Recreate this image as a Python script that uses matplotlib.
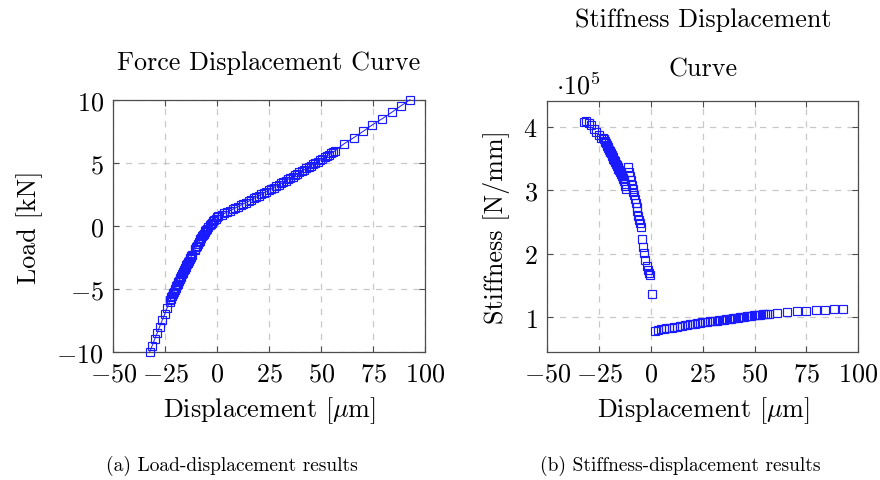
import matplotlib
matplotlib.use("Agg")
import matplotlib.pyplot as plt

plt.rcParams['font.family'] = 'serif'
plt.rcParams['font.serif'] = ['cmr10', 'DejaVu Serif']
plt.rcParams['mathtext.fontset'] = 'cm'
plt.rcParams['axes.formatter.use_mathtext'] = True
plt.rcParams['axes.unicode_minus'] = False

# ---------------- data ----------------
# displacement [um]
displacement = [
    -32.5, -31.3, -30.1, -28.9, -27.7, -26.5, -25.3, -24.1,
    -22.9, -22.6, -22.3, -22.0, -21.7, -21.4, -21.1, -20.8, -20.5, -20.2,
    -19.9, -19.6, -19.3, -19.0, -18.7, -18.4, -18.1, -17.8, -17.5, -17.2,
    -16.9, -16.6, -16.3, -16.0, -15.7, -15.4, -15.1, -14.8, -14.5, -14.2,
    -13.9, -13.6, -13.3, -13.0, -12.7, -12.4, -12.1,
    -10.9, -10.5, -10.1, -9.7, -9.3, -8.9, -8.5, -8.1, -7.7, -7.3,
    -6.9, -6.5, -6.1, -5.7, -5.3, -4.9,
    -4.3, -3.7, -3.2, -2.7, -2.1, -1.4, -0.8, -0.3, 0.5,
    2.1, 3.5, 4.8, 6.1, 7.4, 8.7, 10.0, 11.3, 12.6, 13.9,
    15.2, 16.4, 17.6, 18.8, 20.0, 21.2, 22.4, 23.6, 24.8, 26.0,
    27.2, 28.4, 29.6, 30.8, 31.9, 33.0, 34.1, 35.2, 36.3, 37.4,
    38.5, 39.6, 40.7, 41.8, 42.9, 44.0, 45.1, 46.2, 47.3, 48.4,
    49.5, 50.6, 51.7, 52.8, 53.8, 54.8, 55.8, 56.8,
    61.0, 65.8, 70.3, 74.6, 79.5, 84.0, 88.3, 92.8,
]
# load [kN]
load = [
    -10.0, -9.5, -9.0, -8.5, -8.0, -7.5, -7.0, -6.5,
    -6.00, -5.89, -5.78, -5.67, -5.55, -5.44, -5.33, -5.22, -5.11, -5.00,
    -4.89, -4.78, -4.67, -4.57, -4.46, -4.35, -4.25, -4.14, -4.04, -3.94,
    -3.83, -3.73, -3.63, -3.53, -3.43, -3.33, -3.23, -3.13, -3.04, -2.94,
    -2.84, -2.75, -2.65, -2.56, -2.47, -2.38, -2.29,
    -1.94, -1.81, -1.68, -1.56, -1.43, -1.31, -1.19, -1.07, -0.96, -0.84,
    -0.73, -0.63, -0.52, -0.42, -0.32, -0.22,
    -0.08, 0.05, 0.15, 0.25, 0.36, 0.48, 0.58, 0.67, 0.79,
    0.88, 0.99, 1.10, 1.20, 1.31, 1.42, 1.53, 1.64, 1.74, 1.85,
    1.96, 2.07, 2.18, 2.28, 2.39, 2.50, 2.61, 2.72, 2.82, 2.93,
    3.04, 3.15, 3.26, 3.36, 3.47, 3.58, 3.69, 3.80, 3.90, 4.01,
    4.12, 4.23, 4.34, 4.44, 4.55, 4.66, 4.77, 4.88, 4.98, 5.09,
    5.20, 5.31, 5.42, 5.52, 5.63, 5.74, 5.85, 5.96,
    6.5, 7.0, 7.5, 8.0, 8.5, 9.0, 9.5, 10.0,
]
# stiffness [1e5 N/mm]
stiffness_e5 = [
    4.08, 4.09, 4.06, 4.02, 3.97, 3.92, 3.87, 3.83,
    3.82, 3.80, 3.78, 3.76, 3.74, 3.72, 3.70, 3.68, 3.66, 3.64,
    3.62, 3.60, 3.58, 3.56, 3.54, 3.52, 3.50, 3.48, 3.46, 3.44,
    3.42, 3.40, 3.38, 3.36, 3.34, 3.32, 3.30, 3.28, 3.26, 3.24,
    3.22, 3.20, 3.17, 3.14, 3.10, 3.06, 3.02,
    3.36, 3.28, 3.22, 3.16, 3.09, 3.02, 2.97, 2.92, 2.86, 2.80,
    2.73, 2.67, 2.60, 2.54, 2.49, 2.42,
    2.23, 2.11, 2.01, 1.91, 1.81, 1.75, 1.70, 1.67, 1.37,
    0.79, 0.80, 0.81, 0.82, 0.825, 0.835, 0.84, 0.85, 0.855, 0.86,
    0.87, 0.875, 0.88, 0.89, 0.895, 0.90, 0.905, 0.91, 0.92, 0.925,
    0.93, 0.935, 0.94, 0.945, 0.95, 0.955, 0.96, 0.965, 0.97, 0.975,
    0.98, 0.985, 0.99, 0.995, 1.00, 1.005, 1.01, 1.015, 1.02, 1.025,
    1.03, 1.035, 1.04, 1.04, 1.045, 1.05, 1.05, 1.055,
    1.068, 1.088, 1.094, 1.104, 1.115, 1.12, 1.126, 1.135,
]

x_ticks = [-50, -25, 0, 25, 50, 75, 100]
load_ticks = [-10, -5, 0, 5, 10]
stiff_ticks = [1, 2, 3, 4]

# ---------------- figure ----------------
W, H = 880, 481
fig = plt.figure(figsize=(W / 100, H / 100), dpi=100)

def fx(px):
    return px / W

def fy(py):
    return 1 - py / H

FS = 18.8
CAP = 14.0
FRAME = '#4d4d4d'
BLUE = '#1a1aff'

axL = fig.add_axes([fx(113.3), fy(353.0), fx(425.0) - fx(113.3), fy(100.7) - fy(353.0)])
axR = fig.add_axes([fx(547.3), fy(353.3), fx(858.3) - fx(547.3), fy(101.7) - fy(353.3)])

def style(ax):
    for s in ax.spines.values():
        s.set_color(FRAME)
        s.set_linewidth(0.9)
    ax.tick_params(direction='in', length=4, width=0.8, color=FRAME,
                   top=True, right=True, labelsize=FS, pad=7)
    ax.grid(True, color='#c8c8c8', linestyle=(0, (5, 5)), linewidth=0.9)
    ax.set_axisbelow(True)
    ax.set_xlim(-50, 100)
    ax.set_xticks(x_ticks)
    ax.set_xticklabels([rf'${t}$' for t in x_ticks])

MS = 5.2
MEW = 0.85

style(axL)
axL.plot(displacement, load, color=BLUE, lw=0.7, marker='s', markersize=MS,
         markerfacecolor='none', markeredgecolor=BLUE, markeredgewidth=MEW,
         clip_on=False, zorder=3)
axL.set_ylim(-10, 10)
axL.set_yticks(load_ticks)
axL.set_yticklabels([rf'${t}$' for t in load_ticks])

style(axR)
axR.plot(displacement, [s * 1e5 for s in stiffness_e5], linestyle='none',
         marker='s', markersize=MS, markerfacecolor='none',
         markeredgecolor=BLUE, markeredgewidth=MEW, clip_on=False, zorder=3)
axR.set_ylim(0.45e5, 4.41e5)
axR.set_yticks([t * 1e5 for t in stiff_ticks])
axR.set_yticklabels([rf'${t}$' for t in stiff_ticks])

# titles / labels
fig.text(fx(269), fy(63), 'Force Displacement Curve', ha='center', va='center', fontsize=FS)
fig.text(fx(703), fy(20), 'Stiffness Displacement', ha='center', va='center', fontsize=FS)
fig.text(fx(703), fy(70), 'Curve', ha='center', va='center', fontsize=FS)
fig.text(fx(556), fy(86), r'$\cdot 10^{5}$', ha='left', va='center', fontsize=FS)

fig.text(fx(269), fy(411), r'Displacement [$\mu$m]', ha='center', va='center', fontsize=FS)
fig.text(fx(703), fy(411), r'Displacement [$\mu$m]', ha='center', va='center', fontsize=FS)
fig.text(fx(30), fy(227), 'Load [kN]', ha='center', va='center', rotation=90, fontsize=FS)
fig.text(fx(496), fy(227), 'Stiffness [N/mm]', ha='center', va='center', rotation=90, fontsize=FS)

fig.text(fx(232), fy(466), '(a) Load-displacement results', ha='center', va='center', fontsize=CAP)
fig.text(fx(680), fy(466), '(b) Stiffness-displacement results', ha='center', va='center', fontsize=CAP)

fig.savefig('out.png', dpi=100)
